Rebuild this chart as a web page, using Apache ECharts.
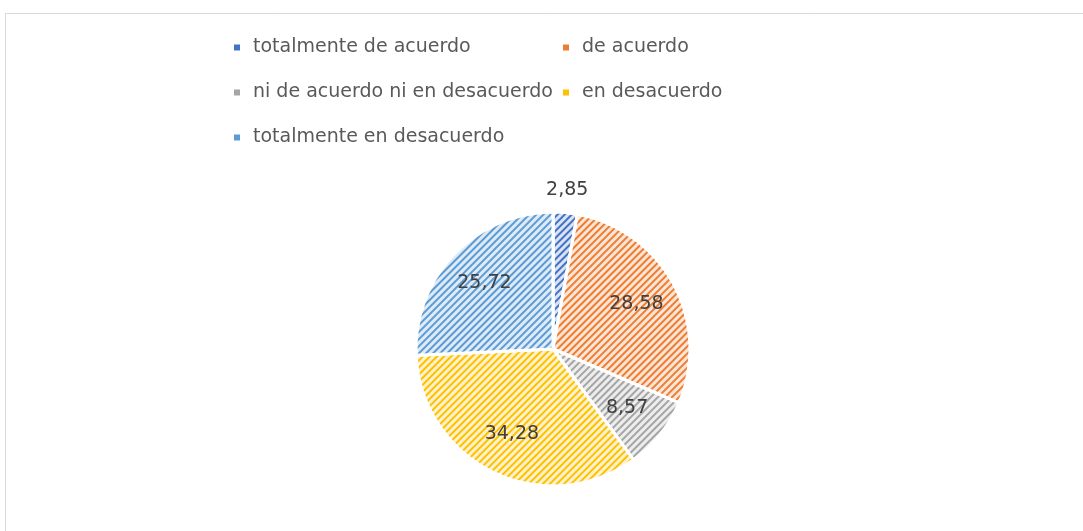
<!DOCTYPE html>
<html>
<head>
<meta charset="utf-8">
<script src="https://cdn.jsdelivr.net/npm/echarts@6/dist/echarts.min.js"></script>
<style>
  html, body { margin: 0; padding: 0; background: #fff; }
  #chart { width: 1083px; height: 531px; }
</style>
</head>
<body>
<div id="chart"></div>
<script>
// datos del grafico
const categories = ['totalmente de acuerdo', 'de acuerdo', 'ni de acuerdo ni en desacuerdo', 'en desacuerdo', 'totalmente en desacuerdo']
const values = [2.85, 28.58, 8.57, 34.28, 25.72]
const mainColors = ['#4472C4', '#ED7D31', '#A5A5A5', '#FFC000', '#5B9BD5']
const lightColors = ['#DAE3F3', '#FBE5D6', '#EDEDED', '#FFF2CC', '#DEEBF7']
const leftLegend = [0, 2, 4]
const rightLegend = [1, 3]

const chart = echarts.init(document.getElementById('chart'))

const center = [553, 349]
const radius = 137

function legendData(idx) {
  return idx.map(function (i) {
    return { name: categories[i], itemStyle: { color: mainColors[i], decal: 'none' } }
  })
}

const legendBase = {
  orient: 'vertical',
  itemWidth: 6,
  itemHeight: 6,
  itemGap: 26,
  icon: 'rect',
  itemStyle: { decal: 'none', borderWidth: 0 },
  textStyle: {
    fontFamily: 'DejaVu Sans',
    fontSize: 19,
    color: '#595959',
    padding: [0, 0, 0, 8]
  }
}

const labelStyle = {
  fontFamily: 'DejaVu Sans',
  fontSize: 19,
  color: '#404040',
  formatter: function (p) { return String(p.value).replace('.', ',') }
}

const option = {
  backgroundColor: '#fff',
  animation: false,
  graphic: [{
    type: 'rect',
    shape: { x: 5.5, y: 13.5, width: 1200, height: 700 },
    style: { fill: 'none', stroke: '#d9d9d9', lineWidth: 1 },
    silent: true
  }],
  legend: [
    Object.assign({}, legendBase, { left: 229, top: 33, data: legendData(leftLegend) }),
    Object.assign({}, legendBase, { left: 558, top: 33, data: legendData(rightLegend) })
  ],
  series: [
    {
      // sectores con relleno rayado
      type: 'pie',
      center: center,
      radius: [0, radius],
      startAngle: 90,
      clockwise: true,
      label: { show: false },
      labelLine: { show: false },
      itemStyle: { borderColor: '#fff', borderWidth: 3 },
      data: categories.map(function (name, i) {
        return {
          name: name,
          value: values[i],
          itemStyle: {
            color: lightColors[i],
            decal: {
              symbol: 'rect',
              color: mainColors[i],
              dashArrayX: [1, 0],
              dashArrayY: [2, 3],
              rotation: -Math.PI / 4
            }
          }
        }
      })
    },
    {
      // etiquetas dentro de los sectores
      type: 'pie',
      center: center,
      radius: [radius * 0.34, radius],
      startAngle: 90,
      clockwise: true,
      silent: true,
      legendHoverLink: false,
      itemStyle: { color: 'rgba(0,0,0,0)' },
      labelLine: { show: false },
      label: Object.assign({ show: true, position: 'inside' }, labelStyle),
      data: categories.map(function (name, i) {
        return { name: name + ' ', value: values[i], label: { show: values[i] >= 5 } }
      })
    },
    {
      // etiqueta del sector pequeño, por fuera
      type: 'pie',
      center: center,
      radius: [radius * 1.06, radius * 1.22],
      startAngle: 90,
      clockwise: true,
      silent: true,
      legendHoverLink: false,
      itemStyle: { color: 'rgba(0,0,0,0)' },
      labelLine: { show: false },
      label: Object.assign({ show: true, position: 'inside' }, labelStyle),
      data: categories.map(function (name, i) {
        return { name: name + '  ', value: values[i], label: { show: values[i] < 5 } }
      })
    }
  ]
}

chart.setOption(option)
</script>
</body>
</html>
